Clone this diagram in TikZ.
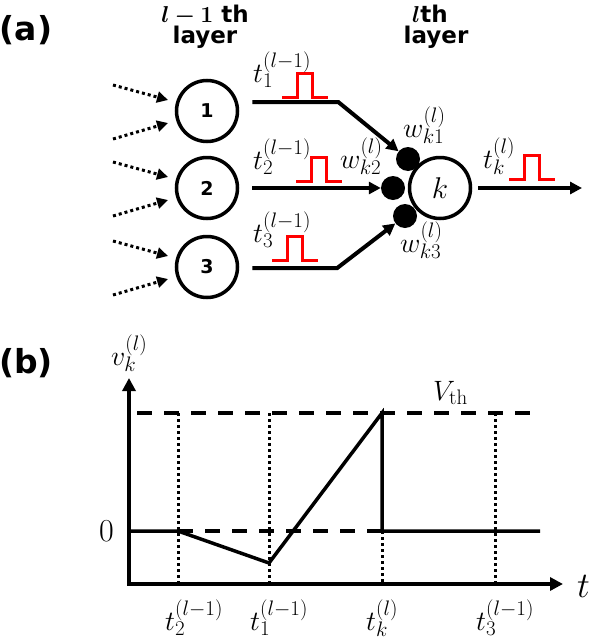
\RequirePackage{fix-cm}
\documentclass[tikz,border=0pt]{standalone}
\usepackage{fontspec}
\usepackage{bm}
\usetikzlibrary{arrows.meta,calc}
\newfontfamily\djv{DejaVu Sans}
\DeclareMathSizes{28}{28}{21}{15}
\begin{document}
\begin{tikzpicture}[x=1pt,y=-1pt,
  neuron/.style={circle, draw, line width=3.5pt, minimum size=61pt, inner sep=0pt},
  syn/.style={circle, fill=black, minimum size=24pt, inner sep=0pt},
  conn/.style={line width=4pt, -{Triangle[length=12pt,width=12pt]}},
  inarrow/.style={line width=3pt, dash pattern=on 3pt off 3pt, -{Triangle[length=11pt,width=11pt]}},
  mlabel/.style={anchor=base west, inner sep=0pt, font=\fontsize{28}{32}\selectfont},
  head/.style={anchor=base, inner sep=0pt, font=\djv\bfseries\fontsize{23}{27}\selectfont},
  panel/.style={inner sep=0pt, font=\djv\bfseries\fontsize{33}{36}\selectfont},
  pulse/.pic={\draw[red, line width=3pt] (0,0) -- (15,0) -- (15,-24) -- (30,-24) -- (30,0) -- (46,0);},
  axis/.style={line width=4pt, -{Triangle[length=13pt,width=13pt]}},
  thr/.style={line width=4pt, dash pattern=on 15pt off 12pt},
  vdot/.style={line width=3pt, dash pattern=on 3pt off 3pt},
  curve/.style={line width=3.5pt, line join=miter}
]
\useasboundingbox (0,0) rectangle (592,640);

% ---------- panel (a)
\node[panel] (pa) at (26,30) {(a)};
\node[head] (h1a) at (205,22) {$\bm{l-1}$ th};
\node[head] (h1b) at (205,43) {layer};
\node[head] (h2a) at (430,22) {$\bm{l}$th};
\node[head] (h2b) at (436,43) {layer};

\node[neuron, font=\djv\bfseries\fontsize{19}{22}\selectfont] (n1) at (207,111) {1};
\node[neuron, font=\djv\bfseries\fontsize{19}{22}\selectfont] (n2) at (207,188) {2};
\node[neuron, font=\djv\bfseries\fontsize{19}{22}\selectfont] (n3) at (207,267) {3};
\node[neuron, font=\fontsize{30}{34}\selectfont] (nk) at (440,188) {$k$};
\node[syn] (s1) at (408,159) {};
\node[syn] (s2) at (393,188) {};
\node[syn] (s3) at (405,216) {};

% dotted inputs
\foreach \n/\y in {1/111, 2/188, 3/267} {
  \coordinate (ia\n) at (113,\y-26);
  \coordinate (ja\n) at (168,\y-11);
  \coordinate (ib\n) at (113,\y+28);
  \coordinate (jb\n) at (168,\y+12);
  \draw[inarrow] (ia\n) -- (ja\n);
  \draw[inarrow] (ib\n) -- (jb\n);
}

% connectors to synapses
\coordinate (o1) at ($(n1.east)+(13,-9)$);
\coordinate (o2) at ($(n2.east)+(13,0)$);
\coordinate (o3) at ($(n3.east)+(13,1)$);
\draw[conn, line join=miter] (o1) -- ++(86,0) -- (s1);
\draw[conn] (o2) -- (s2);
\draw[conn, line join=miter] (o3) -- ++(85,0) -- (s3);
\coordinate (ko) at ($(nk.east)+(6,0)$);
\coordinate (kend) at (582,188);
\draw[conn] (ko) -- (kend);

% pulses
\pic at (282,97) {pulse};
\pic at (296,181) {pulse};
\pic at (272,260) {pulse};
\pic at (509,179) {pulse};

% labels
\node[mlabel] (lt1) at (253,82) {$t_1^{(l-1)}$};
\node[mlabel] (lt2) at (253,169) {$t_2^{(l-1)}$};
\node[mlabel] (lt3) at (253,242) {$t_3^{(l-1)}$};
\node[mlabel] (lw1) at (403,137) {$w_{k1}^{(l)}$};
\node[mlabel] (lw2) at (340,168) {$w_{k2}^{(l)}$};
\node[mlabel] (lw3) at (400,252) {$w_{k3}^{(l)}$};
\node[mlabel] (ltk) at (483,168) {$t_k^{(l)}$};

% ---------- panel (b)
\node[panel] (pb) at (26,363) {(b)};
\coordinate (O) at (129,584);
\coordinate (ytop) at (129,378);
\coordinate (xend) at (563,584);
\coordinate (xs) at (127,584);

% dotted verticals
\draw[vdot] (178,413) -- (178,584);
\draw[vdot] (269,413) -- (269,584);
\draw[vdot] (382,531) -- (382,584);
\draw[vdot] (495,413) -- (495,584);

% threshold and zero dashed
\draw[thr] (137,413) -- (533,413);
\draw[thr] (178,531) -- (382,531);

% potential curve
\draw[curve] (129,531) -- (178,531) -- (269,563) -- (382,413) -- (382,531) -- (540,531);

% axes
\draw[axis] (O) -- (ytop);
\draw[axis] (xs) -- (xend);

\node[mlabel] (lv) at (111,365) {$v_k^{(l)}$};
\node[mlabel] (lvth) at (433,400) {$V_{\mathrm{th}}$};
\node[anchor=east, inner sep=0pt, font=\fontsize{32}{36}\selectfont] (l0) at (114,531) {$0$};
\node[mlabel, font=\fontsize{36}{40}\selectfont] (lt) at (577,597) {$t$};
\node[mlabel] (bt2) at (165,630) {$t_2^{(l-1)}$};
\node[mlabel] (bt1) at (250,630) {$t_1^{(l-1)}$};
\node[mlabel] (btk) at (366,630) {$t_k^{(l)}$};
\node[mlabel] (bt3) at (476,630) {$t_3^{(l-1)}$};
\end{tikzpicture}
\end{document}
